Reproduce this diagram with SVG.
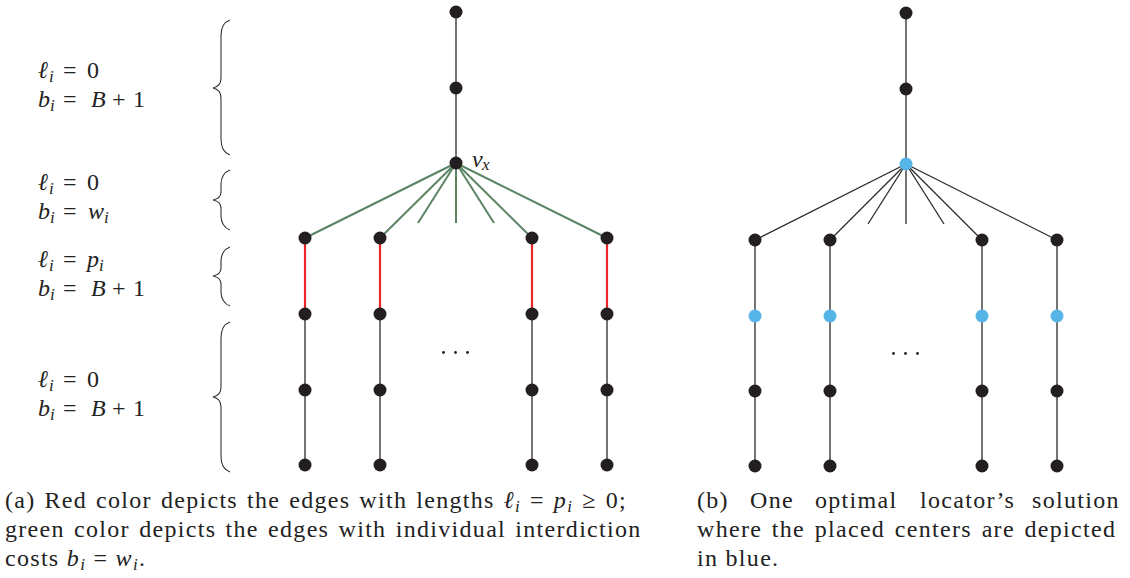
<svg xmlns="http://www.w3.org/2000/svg" width="1130" height="578" viewBox="0 0 1130 578">
<style>
.e{stroke:#3a3a3a;stroke-width:1.4;fill:none}
.g{stroke:#5b8464;stroke-width:2;fill:none}
.r{stroke:#e8262b;stroke-width:2.2;fill:none}
.k{stroke:#2a2a2a;stroke-width:1.3;fill:none}
.n{fill:#231f20}
.b{fill:#56b4e6}
.br{stroke:#333;stroke-width:1.1;fill:none}
.t{font-family:'Liberation Serif','Times New Roman',serif;fill:#222;font-size:24px}
.c{letter-spacing:1.3px}
.m{font-style:italic}
.s{font-size:17px;font-style:italic}
.d{fill:#222}
</style>
<g id="braces">
<path class="br" d="M230,20 C224,22 221,28 221,36 L221,78 C221,84 218,87 213,88 C218,89 221,92 221,98 L221,139 C221,147 224,153 230,155"/>
<path class="br" d="M230,170 C224,172 221,178 221,184 L221,192 C221,197 218,199 213,200 C218,201 221,203 221,208 L221,216 C221,222 224,228 230,230"/>
<path class="br" d="M230,247 C224,249 221,255 221,261 L221,268 C221,273 218,275 213,276 C218,277 221,279 221,284 L221,292 C221,298 224,304 230,306"/>
<path class="br" d="M230,322 C224,324 221,330 221,338 L221,387 C221,393 218,396 213,397 C218,398 221,401 221,407 L221,456 C221,464 224,470 230,472"/>
</g>
<g id="labels" font-family="'Liberation Serif','Times New Roman',serif">
<text class="t" y="78"><tspan class="m" x="38">ℓ</tspan><tspan class="s" x="49" dy="4">i</tspan><tspan x="63" dy="-4">=</tspan><tspan x="87">0</tspan></text>
<text class="t" y="107"><tspan class="m" x="38">b</tspan><tspan class="s" x="50" dy="4">i</tspan><tspan x="63" dy="-4">=</tspan><tspan class="m" x="91">B</tspan><tspan x="112">+</tspan><tspan x="133">1</tspan></text>
<text class="t" y="190"><tspan class="m" x="38">ℓ</tspan><tspan class="s" x="49" dy="4">i</tspan><tspan x="63" dy="-4">=</tspan><tspan x="87">0</tspan></text>
<text class="t" y="219"><tspan class="m" x="38">b</tspan><tspan class="s" x="50" dy="4">i</tspan><tspan x="63" dy="-4">=</tspan><tspan class="m" x="88">w</tspan><tspan class="s" x="104" dy="4">i</tspan></text>
<text class="t" y="267"><tspan class="m" x="38">ℓ</tspan><tspan class="s" x="49" dy="4">i</tspan><tspan x="63" dy="-4">=</tspan><tspan class="m" x="87">p</tspan><tspan class="s" x="99" dy="4">i</tspan></text>
<text class="t" y="296"><tspan class="m" x="38">b</tspan><tspan class="s" x="50" dy="4">i</tspan><tspan x="63" dy="-4">=</tspan><tspan class="m" x="91">B</tspan><tspan x="112">+</tspan><tspan x="133">1</tspan></text>
<text class="t" y="387"><tspan class="m" x="38">ℓ</tspan><tspan class="s" x="49" dy="4">i</tspan><tspan x="63" dy="-4">=</tspan><tspan x="87">0</tspan></text>
<text class="t" y="416"><tspan class="m" x="38">b</tspan><tspan class="s" x="50" dy="4">i</tspan><tspan x="63" dy="-4">=</tspan><tspan class="m" x="91">B</tspan><tspan x="112">+</tspan><tspan x="133">1</tspan></text>
<text class="t" y="167"><tspan class="m" x="472">v</tspan><tspan class="s" x="482" dy="3">x</tspan></text>
</g>
<g id="connectors">
<line class="e" x1="456" y1="12" x2="456" y2="163"/>
<line class="g" x1="456" y1="163" x2="305" y2="238"/>
<line class="g" x1="456" y1="163" x2="380" y2="238"/>
<line class="g" x1="456" y1="163" x2="418" y2="223"/>
<line class="g" x1="456" y1="163" x2="456" y2="223"/>
<line class="g" x1="456" y1="163" x2="494" y2="223"/>
<line class="g" x1="456" y1="163" x2="532" y2="238"/>
<line class="g" x1="456" y1="163" x2="607" y2="238"/>
<line class="r" x1="305" y1="238" x2="305" y2="314"/>
<line class="r" x1="380" y1="238" x2="380" y2="314"/>
<line class="r" x1="532" y1="238" x2="532" y2="314"/>
<line class="r" x1="607" y1="238" x2="607" y2="314"/>
<line class="e" x1="305" y1="314" x2="305" y2="465"/>
<line class="e" x1="380" y1="314" x2="380" y2="465"/>
<line class="e" x1="532" y1="314" x2="532" y2="465"/>
<line class="e" x1="607" y1="314" x2="607" y2="465"/>
<line class="k" x1="906" y1="13" x2="906" y2="164"/>
<line class="k" x1="906" y1="164" x2="755" y2="240"/>
<line class="k" x1="906" y1="164" x2="830" y2="240"/>
<line class="k" x1="906" y1="164" x2="868" y2="224"/>
<line class="k" x1="906" y1="164" x2="906" y2="224"/>
<line class="k" x1="906" y1="164" x2="944" y2="224"/>
<line class="k" x1="906" y1="164" x2="982" y2="240"/>
<line class="k" x1="906" y1="164" x2="1057" y2="240"/>
<line class="e" x1="755" y1="240" x2="755" y2="466"/>
<line class="e" x1="830" y1="240" x2="830" y2="466"/>
<line class="e" x1="982" y1="240" x2="982" y2="466"/>
<line class="e" x1="1057" y1="240" x2="1057" y2="466"/>
</g>
<g id="treeA">
<circle class="n" cx="456" cy="12" r="6.5"/>
<circle class="n" cx="456" cy="88" r="6.5"/>
<circle class="n" cx="456" cy="163" r="6.5"/>
<circle class="n" cx="305" cy="238" r="6.5"/><circle class="n" cx="380" cy="238" r="6.5"/><circle class="n" cx="532" cy="238" r="6.5"/><circle class="n" cx="607" cy="238" r="6.5"/>
<circle class="n" cx="305" cy="314" r="6.5"/><circle class="n" cx="380" cy="314" r="6.5"/><circle class="n" cx="532" cy="314" r="6.5"/><circle class="n" cx="607" cy="314" r="6.5"/>
<circle class="n" cx="305" cy="390" r="6.5"/><circle class="n" cx="380" cy="390" r="6.5"/><circle class="n" cx="532" cy="390" r="6.5"/><circle class="n" cx="607" cy="390" r="6.5"/>
<circle class="n" cx="305" cy="465" r="6.5"/><circle class="n" cx="380" cy="465" r="6.5"/><circle class="n" cx="532" cy="465" r="6.5"/><circle class="n" cx="607" cy="465" r="6.5"/>
<circle class="d" cx="443.5" cy="352.5" r="1.4"/><circle class="d" cx="455.5" cy="352.5" r="1.4"/><circle class="d" cx="467.5" cy="352.5" r="1.4"/>
</g>
<g id="treeB">
<circle class="n" cx="906" cy="13" r="6.5"/>
<circle class="n" cx="906" cy="89" r="6.5"/>
<circle class="b" cx="906" cy="164" r="6.5"/>
<circle class="n" cx="755" cy="240" r="6.5"/><circle class="n" cx="830" cy="240" r="6.5"/><circle class="n" cx="982" cy="240" r="6.5"/><circle class="n" cx="1057" cy="240" r="6.5"/>
<circle class="b" cx="755" cy="316" r="6.5"/><circle class="b" cx="830" cy="316" r="6.5"/><circle class="b" cx="982" cy="316" r="6.5"/><circle class="b" cx="1057" cy="316" r="6.5"/>
<circle class="n" cx="755" cy="391" r="6.5"/><circle class="n" cx="830" cy="391" r="6.5"/><circle class="n" cx="982" cy="391" r="6.5"/><circle class="n" cx="1057" cy="391" r="6.5"/>
<circle class="n" cx="755" cy="466" r="6.5"/><circle class="n" cx="830" cy="466" r="6.5"/><circle class="n" cx="982" cy="466" r="6.5"/><circle class="n" cx="1057" cy="466" r="6.5"/>
<circle class="d" cx="893.5" cy="353.5" r="1.4"/><circle class="d" cx="905.5" cy="353.5" r="1.4"/><circle class="d" cx="917.5" cy="353.5" r="1.4"/>
</g>
<g id="captionA" font-family="'Liberation Serif','Times New Roman',serif">
<text class="t c" x="5" y="508" word-spacing="1.7">(a) Red color depicts the edges with lengths <tspan class="m">ℓ</tspan><tspan class="s" dy="4">i</tspan><tspan dy="-4"> = </tspan><tspan class="m">p</tspan><tspan class="s" dy="4">i</tspan><tspan dy="-4"> ≥ 0;</tspan></text>
<text class="t c" x="5" y="537" word-spacing="2">green color depicts the edges with individual interdiction</text>
<text class="t c" x="5" y="566">costs <tspan class="m">b</tspan><tspan class="s" dy="4">i</tspan><tspan dy="-4"> = </tspan><tspan class="m">w</tspan><tspan class="s" dy="4">i</tspan><tspan dy="-4">.</tspan></text>
</g>
<g id="captionB" font-family="'Liberation Serif','Times New Roman',serif">
<text class="t c" y="508"><tspan x="697">(b)</tspan><tspan x="750">One</tspan><tspan x="815">optimal</tspan><tspan x="920">locator’s</tspan><tspan x="1032">solution</tspan></text>
<text class="t c" x="697" y="537" word-spacing="2.4">where the placed centers are depicted</text>
<text class="t c" x="697" y="566">in blue.</text>
</g>
</svg>
